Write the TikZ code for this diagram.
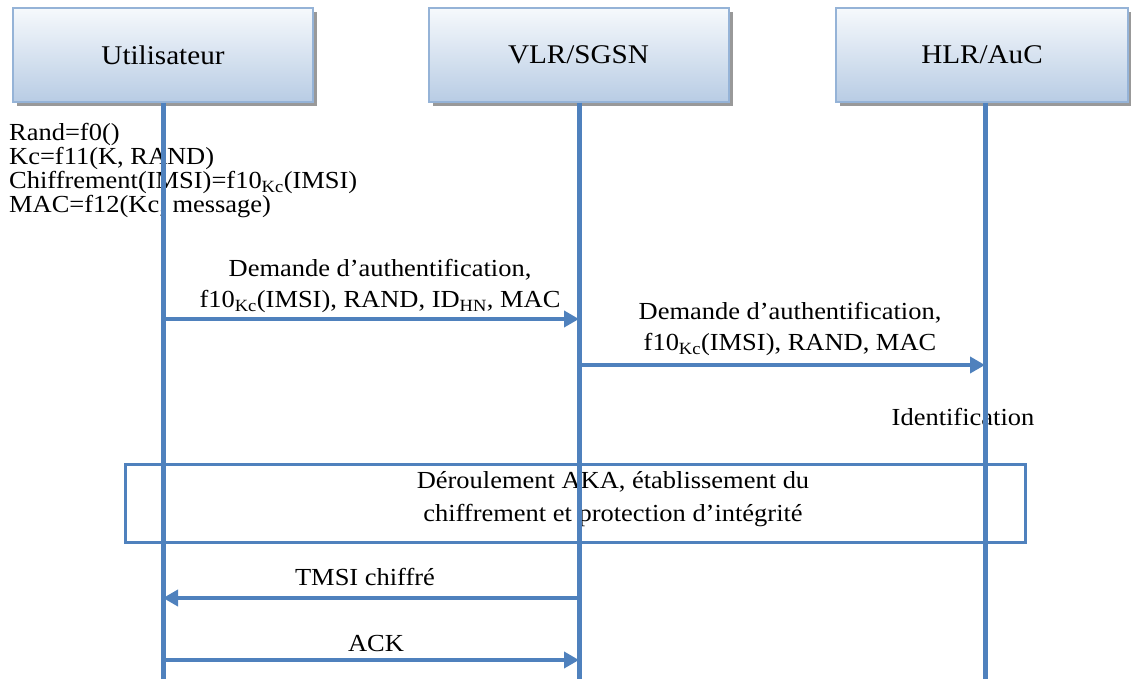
\documentclass[tikz,border=0pt]{standalone}
\usepackage{fontspec}
\setmainfont{Liberation Serif}[FakeStretch=1.08]
\usepackage{tikz}
\usetikzlibrary{arrows.meta,positioning,calc,shadows}
\definecolor{LifeBlue}{RGB}{79,129,189}
\definecolor{HeadEdge}{RGB}{149,179,215}
\definecolor{HeadTop}{RGB}{246,249,252}
\definecolor{HeadBot}{RGB}{184,204,228}
\newcommand{\kc}{\textsubscript{Kc}}
\tikzset{
  head/.style={rectangle,draw=HeadEdge,line width=2pt,top color=HeadTop,bottom color=HeadBot,
               minimum width=300pt,minimum height=94pt,inner sep=0pt,
               general shadow={fill=black!40,shadow xshift=4pt,shadow yshift=-4pt},
               font=\fontsize{27}{30}\selectfont},
  life/.style={line width=5pt,LifeBlue},
  msg/.style={-{Triangle[length=15pt,width=16pt]},line width=4pt,LifeBlue},
  lbl/.style={inner sep=0pt,align=center,text=black,font=\fontsize{24.5}{31}\selectfont},
  note/.style={inner sep=0pt,align=left,font=\fontsize{24.5}{24}\selectfont},
  phase/.style={draw=LifeBlue,line width=3pt,minimum width=900pt,minimum height=78pt},
}

\begin{document}
\begin{tikzpicture}[x=1pt,y=-1pt]
  \useasboundingbox (0,0) rectangle (1131,679);

  \node[head] (usr) at (163,55) {Utilisateur};
  \node[head] (vlr) at (578.5,55) {VLR/SGSN};
  \node[head,minimum width=292pt,anchor=west] (hlr) at (835,55) {HLR/AuC};

  \node[note,anchor=north west] (calc) at (9,123)
    {Rand=f0()\\Kc=f11(K, RAND)\\Chiffrement(IMSI)=f10\kc(IMSI)\\MAC=f12(Kc, message)};
  \node[lbl,anchor=base] (ident) at (963,425) {Identification};
  \node[phase] (aka) at (575,503) {};
  \node[lbl,font=\fontsize{24.5}{33}\selectfont] (akatxt) at (613,499)
    {Déroulement AKA, établissement du\\chiffrement et protection d’intégrité};

  \coordinate (usrEnd) at (163,679);
  \coordinate (vlrEnd) at (579,679);
  \coordinate (hlrEnd) at (985,679);
  \draw[life] (usr.south -| usrEnd) -- (usrEnd);
  \draw[life] (vlr.south -| vlrEnd) -- (vlrEnd);
  \draw[life] (hlr.south -| hlrEnd) -- (hlrEnd);

  \coordinate (u1) at (163,319); \coordinate (v1) at (579,319);
  \coordinate (v2) at (579,365); \coordinate (h2) at (985,365);
  \coordinate (v3) at (579,598); \coordinate (u3) at (163,598);
  \coordinate (u4) at (163,660); \coordinate (v4) at (579,660);

  \draw[msg] (u1) -- node[lbl,above=4pt,xshift=9pt] (m1)
    {Demande d’authentification,\\f10\kc(IMSI), RAND, ID\textsubscript{HN}, MAC} (v1);
  \draw[msg] (v2) -- node[lbl,above=7pt,xshift=8pt] (m2)
    {Demande d’authentification,\\f10\kc(IMSI), RAND, MAC} (h2);
  \draw[msg] (v3) -- node[lbl,above=10pt,xshift=-6pt] (m3) {TMSI chiffré} (u3);
  \draw[msg] (u4) -- node[lbl,above=6pt,xshift=5pt] (m4) {ACK} (v4);
\end{tikzpicture}
\end{document}
